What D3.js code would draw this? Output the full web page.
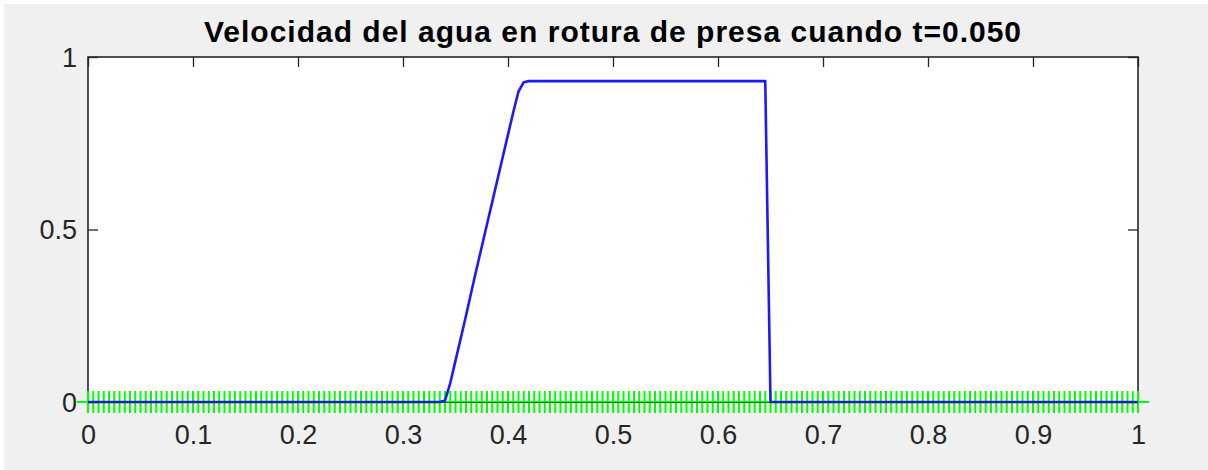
<!DOCTYPE html>
<html>
<head>
<meta charset="utf-8">
<script src="https://cdn.jsdelivr.net/npm/d3@7"></script>
<style>
  html, body { margin: 0; padding: 0; background: #ffffff; }
  svg { display: block; }
</style>
</head>
<body>
<script>
// Chart text
const titleText = "Velocidad del agua en rotura de presa cuando t=0.050";
const xTicks = [0, 0.1, 0.2, 0.3, 0.4, 0.5, 0.6, 0.7, 0.8, 0.9, 1];
const xTickLabels = ["0", "0.1", "0.2", "0.3", "0.4", "0.5", "0.6", "0.7", "0.8", "0.9", "1"];
const yTicks = [0, 0.5, 1];
const yTickLabels = ["0", "0.5", "1"];

// Mesh nodes (green + markers at the bed, y = 0)
const nodeX = [
  0,0.005,0.01,0.015,0.02,0.025,0.03,0.035,0.04,0.045,0.05,0.055,0.06,0.065,0.07,0.075,0.08,0.085,0.09,0.095,
  0.1,0.105,0.11,0.115,0.12,0.125,0.13,0.135,0.14,0.145,0.15,0.155,0.16,0.165,0.17,0.175,0.18,0.185,0.19,0.195,
  0.2,0.205,0.21,0.215,0.22,0.225,0.23,0.235,0.24,0.245,0.25,0.255,0.26,0.265,0.27,0.275,0.28,0.285,0.29,0.295,
  0.3,0.305,0.31,0.315,0.32,0.325,0.33,0.335,0.34,0.345,0.35,0.355,0.36,0.365,0.37,0.375,0.38,0.385,0.39,0.395,
  0.4,0.405,0.41,0.415,0.42,0.425,0.43,0.435,0.44,0.445,0.45,0.455,0.46,0.465,0.47,0.475,0.48,0.485,0.49,0.495,
  0.5,0.505,0.51,0.515,0.52,0.525,0.53,0.535,0.54,0.545,0.55,0.555,0.56,0.565,0.57,0.575,0.58,0.585,0.59,0.595,
  0.6,0.605,0.61,0.615,0.62,0.625,0.63,0.635,0.64,0.645,0.65,0.655,0.66,0.665,0.67,0.675,0.68,0.685,0.69,0.695,
  0.7,0.705,0.71,0.715,0.72,0.725,0.73,0.735,0.74,0.745,0.75,0.755,0.76,0.765,0.77,0.775,0.78,0.785,0.79,0.795,
  0.8,0.805,0.81,0.815,0.82,0.825,0.83,0.835,0.84,0.845,0.85,0.855,0.86,0.865,0.87,0.875,0.88,0.885,0.89,0.895,
  0.9,0.905,0.91,0.915,0.92,0.925,0.93,0.935,0.94,0.945,0.95,0.955,0.96,0.965,0.97,0.975,0.98,0.985,0.99,0.995,
  1
];

// Water velocity profile (breakpoints of the polyline)
const velX = [0, 0.335, 0.34, 0.345, 0.35, 0.355, 0.36, 0.365, 0.37, 0.375, 0.38, 0.385, 0.39, 0.395,
              0.40, 0.405, 0.41, 0.415, 0.42, 0.645, 0.65, 1];
const velU = [0, 0, 0.004, 0.055, 0.12, 0.185, 0.25, 0.318, 0.385, 0.45, 0.515, 0.58, 0.645, 0.71,
              0.775, 0.84, 0.9, 0.927, 0.93, 0.93, 0, 0];

const W = 1208, H = 470;
const plot = { left: 88, right: 1138, top: 57, bottom: 402 };
const axisColor = "#262626";
const font = "'Liberation Sans', Arial, Helvetica, sans-serif";

const svg = d3.select("body").append("svg")
  .attr("width", W).attr("height", H);

// figure background
svg.append("rect").attr("width", W).attr("height", H).attr("fill", "#ffffff");
svg.append("rect").attr("x", 4).attr("y", 4).attr("width", W - 4).attr("height", H - 4).attr("fill", "#f0f0f0");

const x = d3.scaleLinear().domain([0, 1]).range([plot.left, plot.right]);
const y = d3.scaleLinear().domain([0, 1]).range([plot.bottom, plot.top]);

// axes area
svg.append("rect")
  .attr("x", plot.left).attr("y", plot.top)
  .attr("width", plot.right - plot.left).attr("height", plot.bottom - plot.top)
  .attr("fill", "#ffffff");

const tickLen = 10;

// x axis (bottom) with inward ticks, labels below
const xAxisBottom = svg.append("g")
  .attr("transform", `translate(0,${plot.bottom})`)
  .call(d3.axisBottom(x).tickValues(xTicks).tickSizeInner(-tickLen).tickSizeOuter(0)
        .tickFormat((d, i) => xTickLabels[i]));
// x axis (top) ticks only
const xAxisTop = svg.append("g")
  .attr("transform", `translate(0,${plot.top})`)
  .call(d3.axisTop(x).tickValues(xTicks).tickSizeInner(-tickLen).tickSizeOuter(0).tickFormat(""));
// y axis (left) with inward ticks
const yAxisLeft = svg.append("g")
  .attr("transform", `translate(${plot.left},0)`)
  .call(d3.axisLeft(y).tickValues(yTicks).tickSizeInner(-tickLen).tickSizeOuter(0)
        .tickFormat((d, i) => yTickLabels[i]));
// y axis (right) ticks only
const yAxisRight = svg.append("g")
  .attr("transform", `translate(${plot.right},0)`)
  .call(d3.axisRight(y).tickValues(yTicks).tickSizeInner(-tickLen).tickSizeOuter(0).tickFormat(""));

[xAxisBottom, xAxisTop, yAxisLeft, yAxisRight].forEach(g => {
  g.select(".domain").remove();
  g.selectAll(".tick line").attr("stroke", axisColor).attr("stroke-width", 1.3);
  g.selectAll("text").attr("fill", axisColor).attr("font-family", font).attr("font-size", 27);
});
xAxisBottom.selectAll("text").attr("dy", null).attr("y", 42);
yAxisLeft.selectAll("text").attr("x", -11).attr("dy", "0.35em");

// box
svg.append("rect")
  .attr("x", plot.left).attr("y", plot.top)
  .attr("width", plot.right - plot.left).attr("height", plot.bottom - plot.top)
  .attr("fill", "none").attr("stroke", axisColor).attr("stroke-width", 1.6);

// bed nodes: green plus markers
const half = 11;
const plus = svg.append("g").attr("stroke", "#00ff00").attr("stroke-width", 2).attr("fill", "none");
plus.selectAll("path.node")
  .data(nodeX)
  .join("path")
  .attr("class", "node")
  .attr("d", d => {
    const cx = x(d), cy = y(0);
    return `M${cx - half},${cy}H${cx + half}M${cx},${cy - half}V${cy + half}`;
  });

// velocity line
const velData = velX.map((v, i) => [v, velU[i]]);
svg.append("path")
  .datum(velData)
  .attr("fill", "none")
  .attr("stroke", "#1a1aff")
  .attr("stroke-width", 2.6)
  .attr("stroke-linejoin", "round")
  .attr("d", d3.line().x(d => x(d[0])).y(d => y(d[1])));

// bottom edge of the box drawn over the data
svg.append("line")
  .attr("x1", plot.left).attr("x2", plot.right)
  .attr("y1", plot.bottom + 0.5).attr("y2", plot.bottom + 0.5)
  .attr("stroke", axisColor).attr("stroke-width", 1.2).attr("stroke-opacity", 0.6);

// title
svg.append("text")
  .attr("x", (plot.left + plot.right) / 2)
  .attr("y", 42)
  .attr("text-anchor", "middle")
  .attr("font-family", font)
  .attr("font-weight", "bold")
  .attr("font-size", 30)
  .attr("letter-spacing", 1)
  .attr("fill", "#000000")
  .text(titleText);
</script>
</body>
</html>
